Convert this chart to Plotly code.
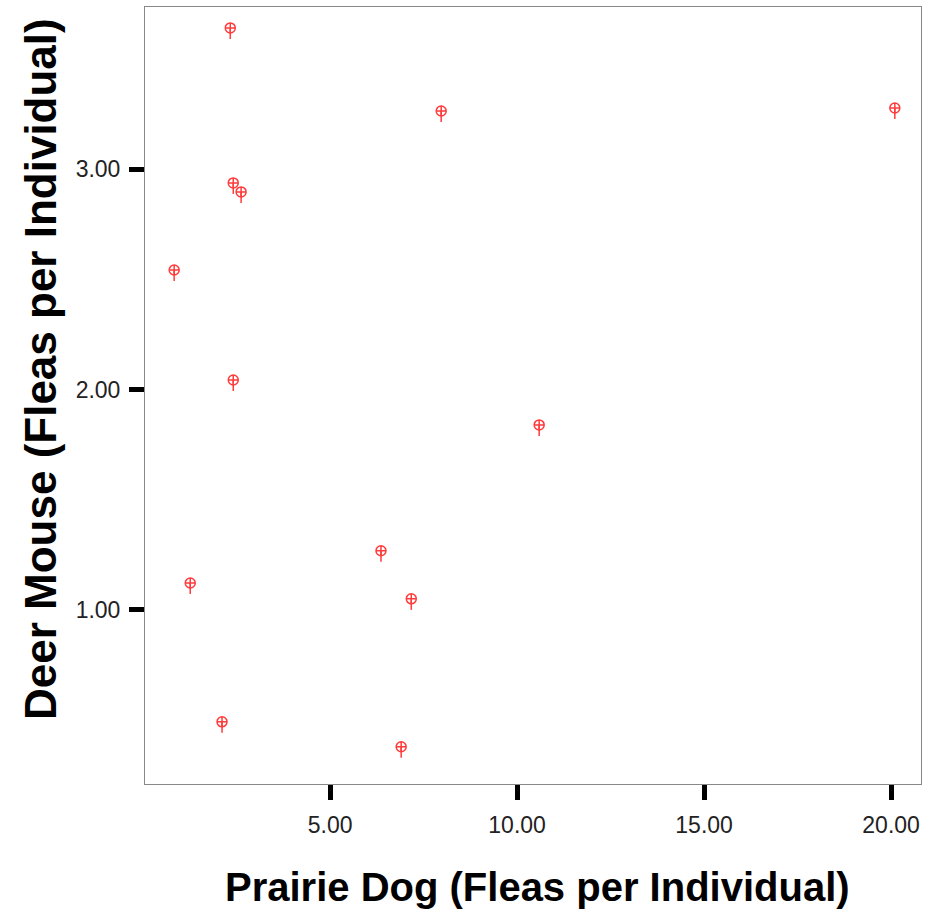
import plotly.graph_objects as go

prairie_dog = [2.33, 7.97, 20.1, 2.41, 2.62, 0.83, 2.41, 10.59, 6.36, 1.26, 7.17, 2.11, 6.9]
deer_mouse = [3.64, 3.263, 3.277, 2.937, 2.896, 2.542, 2.043, 1.839, 1.268, 1.122, 1.05, 0.492, 0.379]

x_ticks = [5, 10, 15, 20]
x_tick_labels = ["5.00", "10.00", "15.00", "20.00"]
y_ticks = [1, 2, 3]
y_tick_labels = ["1.00", "2.00", "3.00"]

red = "#ff3b3b"

fig = go.Figure()
fig.add_trace(go.Scatter(
    x=prairie_dog, y=deer_mouse, mode="markers",
    marker=dict(symbol="circle-cross-open", size=10, color=red,
                line=dict(width=1.5, color=red)),
    error_y=dict(type="constant", value=0, valueminus=0.05, symmetric=False,
                 width=0, thickness=1.5, color=red),
    showlegend=False,
))

axis_common = dict(
    showline=True, linecolor="#888888", linewidth=1, mirror=True,
    showgrid=False, zeroline=False,
    ticks="outside", tickcolor="black", tickwidth=5, ticklen=15,
    tickfont=dict(family="Liberation Sans, Arial", size=23, color="#222222"),
)

fig.update_layout(
    width=925, height=913,
    margin=dict(l=145, r=4, t=7, b=129),
    paper_bgcolor="white", plot_bgcolor="white",
    xaxis=dict(range=[0.05, 20.8], tickvals=x_ticks, ticktext=x_tick_labels,
               ticklabelstandoff=5, **axis_common),
    yaxis=dict(range=[0.21, 3.735], tickvals=y_ticks, ticktext=y_tick_labels,
               ticklabelstandoff=4, **axis_common),
    annotations=[
        dict(text="<b>Prairie Dog (Fleas per Individual)</b>", xref="paper", yref="paper",
             x=(537 - 145) / 776, y=(784 - 887) / 777, xanchor="center", yanchor="middle", showarrow=False,
             font=dict(family="Liberation Sans, Arial", size=40, color="black")),
        dict(text="<b>Deer Mouse (Fleas per Individual)</b>", xref="paper", yref="paper",
             x=(40 - 145) / 776, y=(784 - 369) / 777, xanchor="center", yanchor="middle", showarrow=False,
             textangle=-90,
             font=dict(family="Liberation Sans, Arial", size=44, color="black")),
    ],
)

fig.write_html("out.html")
